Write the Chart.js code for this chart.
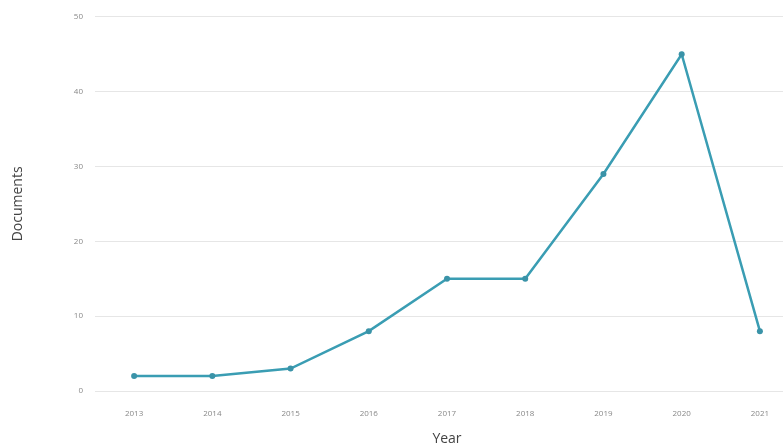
<!DOCTYPE html>
<html><head><meta charset="utf-8">
<script src="https://cdn.jsdelivr.net/npm/chart.js@4"></script>
<style>html,body{margin:0;padding:0;background:#fff;overflow:hidden;width:783px;height:447px}#w{width:802px;height:447px;position:relative}</style>
</head><body><div id="w"><canvas id="c"></canvas></div>
<script>
const years = ['2013','2014','2015','2016','2017','2018','2019','2020','2021'];
const documents = [2, 2, 3, 8, 15, 15, 29, 45, 8];
const yTicks = [0, 10, 20, 30, 40, 50];

new Chart(document.getElementById('c'), {
  type: 'line',
  data: { labels: years, datasets: [{
    data: documents,
    borderColor: '#3a9db3',
    backgroundColor: '#3a93a8',
    borderWidth: 2.5,
    pointRadius: 3,
    pointHoverRadius: 3,
    pointBorderWidth: 0,
    tension: 0,
    fill: false
  }]},
  options: {
    responsive: true, maintainAspectRatio: false, animation: false,
    layout: { padding: { top: 13, right: 0, left: 0, bottom: 0 } },
    plugins: { legend: { display: false }, tooltip: { enabled: false } },
    scales: {
      x: {
        offset: true,
        grid: { display: false },
        border: { display: false },
        ticks: { color: '#888', font: { family: 'Open Sans', size: 8 }, padding: 10 },
        title: { display: true, text: 'Year', color: '#444', font: { family: 'Open Sans', size: 14 }, padding: { top: 4, bottom: 0 } },
        afterFit: s => { s.height = 56; }
      },
      y: {
        min: 0, max: 50,
        afterBuildTicks: s => { s.ticks = yTicks.map(v => ({ value: v })); },
        grid: { color: '#e6e6e6', lineWidth: 1, drawTicks: false },
        border: { display: false },
        ticks: { color: '#888', font: { family: 'Open Sans', size: 8 }, padding: 12 },
        title: { display: true, text: 'Documents', color: '#444', font: { family: 'Open Sans', size: 14 }, padding: { top: 10, bottom: 10 } },
        afterFit: s => { s.width = 95; }
      }
    }
  }
});
</script></body></html>
